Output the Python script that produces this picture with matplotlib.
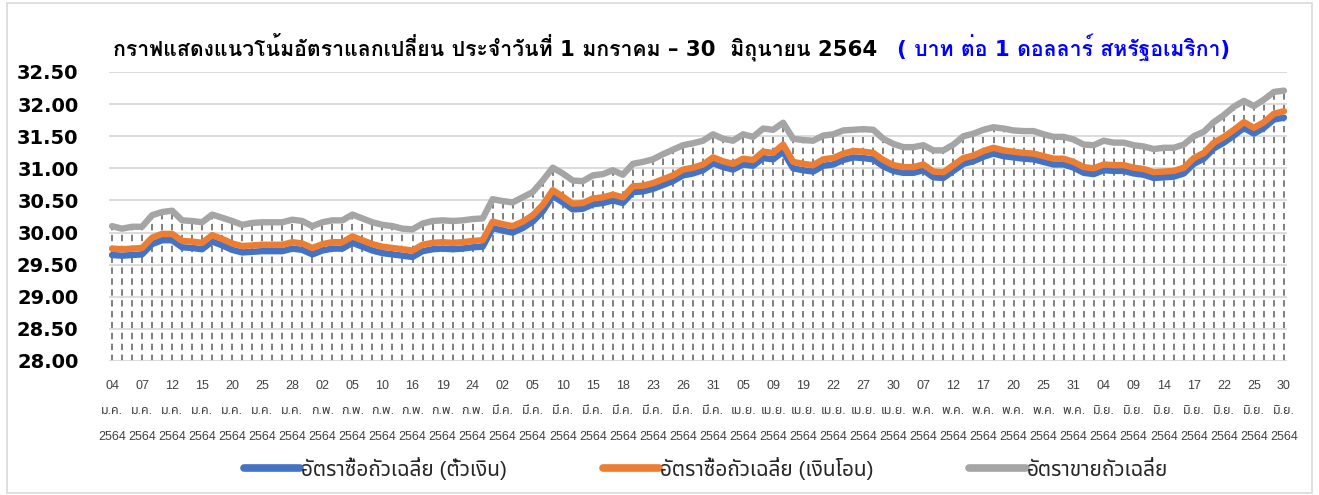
import matplotlib
matplotlib.use('Agg')
import matplotlib.pyplot as plt
from matplotlib import font_manager
from matplotlib.ft2font import FT2Font
from matplotlib.lines import Line2D
from matplotlib.patches import Rectangle
from matplotlib.font_manager import FontProperties

# ---------------- data ----------------
days = ['04', '07', '12', '15', '20', '25', '28',
        '02', '05', '10', '16', '19', '24',
        '02', '05', '10', '15', '18', '23', '26', '31',
        '05', '09', '19', '22', '27', '30',
        '07', '12', '17', '20', '25', '31',
        '04', '09', '14', '17', '22', '25', '30']
months = (['ม.ค.'] * 7 + ['ก.พ.'] * 6 + ['มี.ค.'] * 8 + ['เม.ย.'] * 6
          + ['พ.ค.'] * 6 + ['มิ.ย.'] * 7)
year_label = '2564'

buy_sight = [29.65, 29.64, 29.65, 29.66, 29.82, 29.88, 29.88, 29.77, 29.76, 29.74,
             29.86, 29.80, 29.73, 29.69, 29.70, 29.71, 29.71, 29.71, 29.75, 29.73,
             29.66, 29.72, 29.75, 29.75, 29.84, 29.78, 29.72, 29.68, 29.66, 29.64,
             29.62, 29.71, 29.74, 29.75, 29.74, 29.75, 29.77, 29.78,
             30.07, 30.03, 30.00, 30.07, 30.17, 30.33, 30.57, 30.47, 30.36, 30.37,
             30.44, 30.46, 30.50, 30.46, 30.63, 30.64, 30.68, 30.74, 30.80, 30.89,
             30.92, 30.97, 31.08, 31.02, 30.98, 31.06, 31.04, 31.16, 31.14, 31.26,
             31.00, 30.97, 30.95, 31.04, 31.06, 31.13, 31.17, 31.16, 31.14, 31.03,
             30.96,
             30.93, 30.93, 30.97, 30.86, 30.85, 30.96, 31.07, 31.11, 31.18, 31.23,
             31.19, 31.17, 31.15, 31.14, 31.10, 31.06, 31.06, 31.01, 30.93, 30.91,
             30.97, 30.96, 30.96, 30.92, 30.90, 30.85, 30.86, 30.87, 30.92, 31.07,
             31.15, 31.31, 31.40, 31.51, 31.63, 31.54, 31.63, 31.76, 31.79]

buy_tt = [29.75, 29.74, 29.75, 29.76, 29.92, 29.98, 29.98, 29.87, 29.86, 29.84,
          29.96, 29.90, 29.83, 29.79, 29.80, 29.81, 29.81, 29.81, 29.85, 29.83,
          29.76, 29.82, 29.85, 29.85, 29.94, 29.88, 29.82, 29.78, 29.76, 29.74,
          29.72, 29.81, 29.84, 29.85, 29.84, 29.85, 29.87, 29.88,
          30.17, 30.13, 30.10, 30.17, 30.27, 30.43, 30.66, 30.56, 30.45, 30.46,
          30.53, 30.55, 30.59, 30.55, 30.72, 30.73, 30.77, 30.83, 30.89, 30.98,
          31.01, 31.06, 31.17, 31.11, 31.07, 31.15, 31.13, 31.26, 31.24, 31.37,
          31.10, 31.07, 31.05, 31.14, 31.16, 31.23, 31.27, 31.26, 31.24, 31.13,
          31.05,
          31.02, 31.02, 31.06, 30.95, 30.94, 31.05, 31.16, 31.20, 31.27, 31.32,
          31.28, 31.26, 31.24, 31.23, 31.19, 31.15, 31.15, 31.10, 31.02, 31.00,
          31.06, 31.05, 31.05, 31.01, 30.99, 30.94, 30.95, 30.96, 31.01, 31.16,
          31.24, 31.40, 31.49, 31.60, 31.72, 31.63, 31.72, 31.85, 31.89]

sell = [30.10, 30.06, 30.09, 30.09, 30.27, 30.32, 30.34, 30.19, 30.18, 30.16,
        30.28, 30.23, 30.18, 30.12, 30.15, 30.16, 30.16, 30.16, 30.20, 30.18,
        30.10, 30.16, 30.19, 30.19, 30.28, 30.22, 30.16, 30.12, 30.10, 30.06,
        30.05, 30.14, 30.18, 30.19, 30.18, 30.19, 30.21, 30.22,
        30.52, 30.49, 30.47, 30.55, 30.63, 30.81, 31.01, 30.92, 30.81, 30.80,
        30.89, 30.91, 30.97, 30.90, 31.07, 31.10, 31.14, 31.22, 31.29, 31.36,
        31.39, 31.43, 31.53, 31.46, 31.43, 31.53, 31.49, 31.62, 31.60, 31.71,
        31.46, 31.44, 31.43, 31.51, 31.53, 31.59, 31.60, 31.61, 31.60, 31.46,
        31.38,
        31.33, 31.33, 31.36, 31.28, 31.28, 31.37, 31.50, 31.54, 31.60, 31.64,
        31.62, 31.59, 31.58, 31.58, 31.53, 31.49, 31.49, 31.45, 31.37, 31.36,
        31.43, 31.40, 31.40, 31.36, 31.34, 31.30, 31.32, 31.32, 31.37, 31.50,
        31.57, 31.72, 31.83, 31.96, 32.05, 31.97, 32.07, 32.19, 32.21]

series_names = ['อัตราซื้อถัวเฉลี่ย (ตั๋วเงิน)', 'อัตราซื้อถัวเฉลี่ย (เงินโอน)', 'อัตราขายถัวเฉลี่ย']
title_main = 'กราฟแสดงแนวโน้มอัตราแลกเปลี่ยน ประจำวันที่ 1 มกราคม – 30  มิถุนายน 2564'
title_unit = '( บาท ต่อ 1 ดอลลาร์ สหรัฐอเมริกา)'
yticks = [28.00, 28.50, 29.00, 29.50, 30.00, 30.50, 31.00, 31.50, 32.00, 32.50]


# ---------------- fonts ----------------
def thai_fonts():
    seen = {}
    for f in font_manager.fontManager.ttflist:
        try:
            cmap = FT2Font(f.fname).get_charmap()
        except Exception:
            continue
        if 0x0E01 in cmap:
            seen.setdefault(f.name, []).append(f)
    if not seen:
        return None, None
    pref = ['Tahoma', 'Noto Sans Thai', 'Noto Sans Thai UI', 'Loma', 'Garuda', 'Sarabun',
            'Kinnari', 'Norasi', 'Waree', 'Umpush', 'Sawasdee', 'Tlwg Typo']

    def has_bold(n):
        return any((isinstance(f.weight, int) and f.weight >= 600) or
                   (isinstance(f.weight, str) and 'bold' in f.weight.lower())
                   for f in seen[n])

    names = sorted(seen.keys(), key=lambda n: pref.index(n) if n in pref else 99)
    bold_names = [n for n in names if has_bold(n)]
    return names[0], (bold_names[0] if bold_names else names[0])


thai_name, thai_bold = thai_fonts()
fam_num = ['DejaVu Sans'] + ([thai_bold] if thai_bold else [])
fam_lab = ['Liberation Sans'] + ([thai_name] if thai_name else []) + ['DejaVu Sans']
fam_title = ['DejaVu Sans'] + ([thai_bold] if thai_bold else [])
plt.rcParams['font.family'] = fam_lab

# ---------------- figure ----------------
W, H = 1319, 495
fig = plt.figure(figsize=(W / 100, H / 100), dpi=100)
fig.patch.set_facecolor('white')
fig.patches.append(Rectangle((6.5 / W, 2 / H), (1311.5 - 6.5) / W, (492 - 2) / H,
                             transform=fig.transFigure, fill=False,
                             edgecolor='#d9d9d9', linewidth=1.2))

ax = fig.add_axes([109 / W, 1 - 361 / H, (1287 - 109) / W, (361 - 72) / H])
x = list(range(len(sell)))

for s in ax.spines.values():
    s.set_visible(False)
ax.set_ylim(28.0, 32.5)
ax.set_xlim(-0.3, len(sell) - 1 + 0.3)
ax.set_yticks(yticks)
ax.set_yticklabels([f'{v:.2f}' for v in yticks], fontsize=14, fontweight='bold',
                   family=fam_num, color='black')
ax.grid(axis='y', color='#d9d9d9', linewidth=1.3, zorder=0)
ax.tick_params(axis='both', length=0)
ax.tick_params(axis='y', pad=22)

tick_pos = x[::3]
ax.set_xticks(tick_pos)
ax.set_xticklabels([f'{d}\n{m}\n{year_label}' for d, m in zip(days, months)],
                   fontsize=9, color='#404040', linespacing=2.45)
ax.tick_params(axis='x', pad=14)

# drop lines
top = [max(a, b, c) for a, b, c in zip(buy_sight, buy_tt, sell)]
ax.vlines(x, 28.0, top, colors='#7f7f7f', linewidth=1.4,
          linestyles=(0, (3.3, 2.3)), zorder=1)

l3, = ax.plot(x, sell, color='#A5A5A5', linewidth=4.6, solid_joinstyle='round',
              solid_capstyle='round', zorder=3)
l2, = ax.plot(x, buy_tt, color='#ED7D31', linewidth=4.6, solid_joinstyle='round',
              solid_capstyle='round', zorder=4)
l1, = ax.plot(x, buy_sight, color='#4472C4', linewidth=4.6, solid_joinstyle='round',
              solid_capstyle='round', zorder=3.5)

# title (two colours)
t1 = fig.text(113 / W, 1 - 47 / H, title_main, ha='left', va='center',
              fontsize=15.3, fontweight='bold', family=fam_title, color='black')
fig.canvas.draw()
bb = t1.get_window_extent(fig.canvas.get_renderer())
fig.text((bb.x1 + 20) / W, 1 - 47 / H, title_unit, ha='left', va='center',
         fontsize=15.3, fontweight='bold', family=fam_title, color='#0000FF')

# legend
handles = [Line2D([], [], color=c, linewidth=5.5, solid_capstyle='round')
           for c in ['#4472C4', '#ED7D31', '#A5A5A5']]
fig.legend(handles, series_names, loc='center', bbox_to_anchor=(706 / W, 1 - 468 / H),
           ncol=3, frameon=False, handlelength=2.7, handletextpad=0.05,
           columnspacing=4.6, prop=FontProperties(family=fam_lab, size=15),
           labelcolor='#262626')

fig.savefig('out.png', dpi=100, facecolor='white')
